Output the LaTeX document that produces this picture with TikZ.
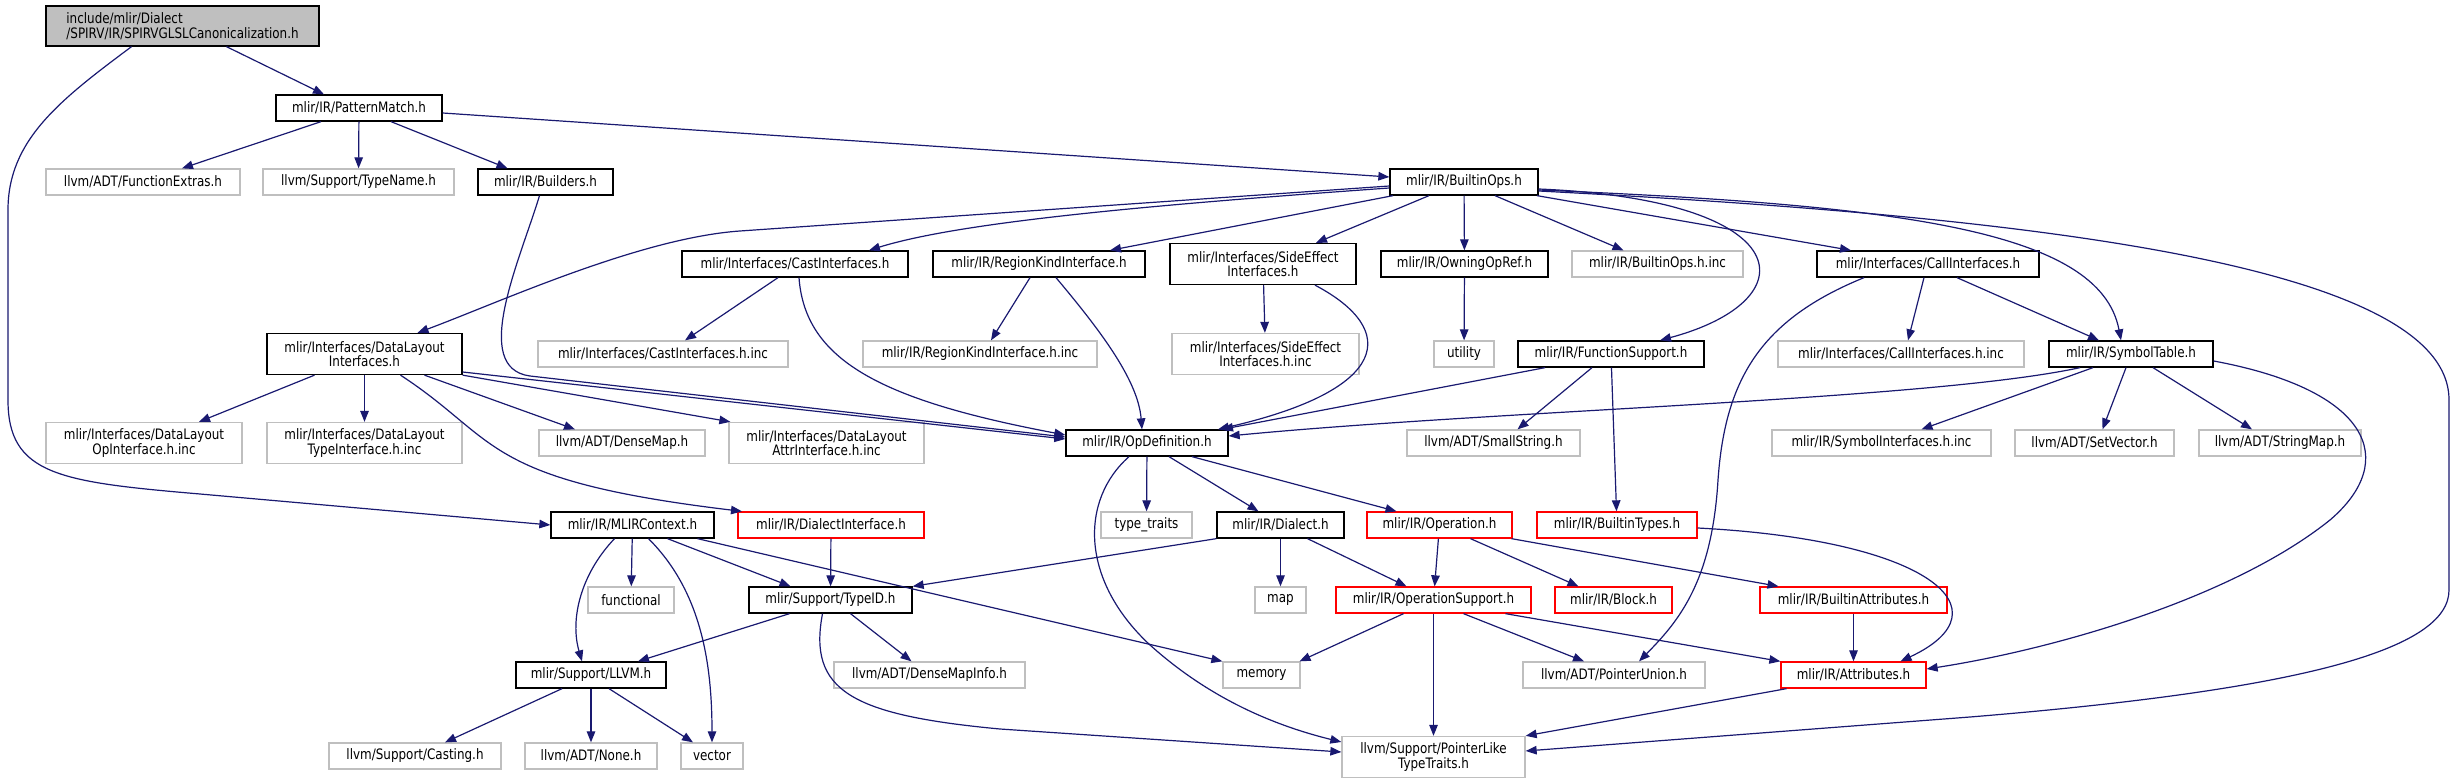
\documentclass[tikz,border=0pt]{standalone}
\usepackage{fontspec}
\setmainfont{DejaVu Sans}[FakeStretch=0.83]
\usepackage{xcolor}
\usepackage{tikz}
\usetikzlibrary{arrows.meta,calc}
\definecolor{edge}{HTML}{191970}
\definecolor{frame}{HTML}{BFBFBF}
\definecolor{trunc}{HTML}{FF0000}
\tikzset{
  box/.style={line width=1.3pt,fill=white,inner sep=0pt,minimum height=26,align=center,font=\fontsize{14.4}{14.5}\selectfont},
  inc/.style={box,draw=black},
  ext/.style={box,draw=frame},
  cut/.style={box,draw=trunc},
  root/.style={box,draw=black,fill=frame,align=left},
  dep/.style={draw=edge,line width=1.2pt,-{Triangle[length=11pt,width=8.5pt]}}
}

\begin{document}
\begin{tikzpicture}[x=1pt,y=-1pt]
  \useasboundingbox (0,0) rectangle (2455,783);
  \node[root,minimum width=273,minimum height=40] (top) at (182.5,26) {include/mlir/Dialect\\/SPIRV/IR/SPIRVGLSLCanonicalization.h};
  \node[inc,minimum width=166] (pmatch) at (359,108) {mlir/IR/PatternMatch.h};
  \node[ext,minimum width=194] (fextras) at (143,182) {llvm/ADT/FunctionExtras.h};
  \node[ext,minimum width=191] (tname) at (358.5,182) {llvm/Support/TypeName.h};
  \node[inc,minimum width=135] (builders) at (545.5,182) {mlir/IR/Builders.h};
  \node[inc,minimum width=148] (bops) at (1464,182) {mlir/IR/BuiltinOps.h};
  \node[inc,minimum width=226] (castif) at (795,264) {mlir/Interfaces/CastInterfaces.h};
  \node[inc,minimum width=212] (regkind) at (1039,264) {mlir/IR/RegionKindInterface.h};
  \node[inc,minimum width=186,minimum height=41] (sideeff) at (1263,264) {mlir/Interfaces/SideEffect\\Interfaces.h};
  \node[inc,minimum width=167] (owning) at (1464.5,264) {mlir/IR/OwningOpRef.h};
  \node[ext,minimum width=171] (bopsinc) at (1657.5,264) {mlir/IR/BuiltinOps.h.inc};
  \node[inc,minimum width=222] (callif) at (1928,264) {mlir/Interfaces/CallInterfaces.h};
  \node[inc,minimum width=195,minimum height=41] (dlayout) at (364.5,354) {mlir/Interfaces/DataLayout\\Interfaces.h};
  \node[ext,minimum width=250] (castinc) at (663,354) {mlir/Interfaces/CastInterfaces.h.inc};
  \node[ext,minimum width=234] (reginc) at (980,354) {mlir/IR/RegionKindInterface.h.inc};
  \node[ext,minimum width=187,minimum height=41] (sideinc) at (1265.5,354) {mlir/Interfaces/SideEffect\\Interfaces.h.inc};
  \node[ext,minimum width=60] (utility) at (1464,354) {utility};
  \node[inc,minimum width=186] (funcsup) at (1611,354) {mlir/IR/FunctionSupport.h};
  \node[ext,minimum width=246] (callinc) at (1901,354) {mlir/Interfaces/CallInterfaces.h.inc};
  \node[inc,minimum width=164] (symtab) at (2131,354) {mlir/IR/SymbolTable.h};
  \node[ext,minimum width=196,minimum height=41] (dlop) at (144,443) {mlir/Interfaces/DataLayout\\OpInterface.h.inc};
  \node[ext,minimum width=195,minimum height=41] (dltype) at (364.5,443) {mlir/Interfaces/DataLayout\\TypeInterface.h.inc};
  \node[ext,minimum width=166] (densemap) at (622,443) {llvm/ADT/DenseMap.h};
  \node[ext,minimum width=195,minimum height=41] (dlattr) at (826.5,443) {mlir/Interfaces/DataLayout\\AttrInterface.h.inc};
  \node[inc,minimum width=162] (opdef) at (1147,443) {mlir/IR/OpDefinition.h};
  \node[ext,minimum width=173] (smallstr) at (1493.5,443) {llvm/ADT/SmallString.h};
  \node[ext,minimum width=219] (symifinc) at (1881.5,443) {mlir/IR/SymbolInterfaces.h.inc};
  \node[ext,minimum width=159] (setvec) at (2094.5,443) {llvm/ADT/SetVector.h};
  \node[ext,minimum width=162] (strmap) at (2280,443) {llvm/ADT/StringMap.h};
  \node[inc,minimum width=163] (mlirctx) at (632.5,525) {mlir/IR/MLIRContext.h};
  \node[cut,minimum width=186] (dialif) at (831,525) {mlir/IR/DialectInterface.h};
  \node[ext,minimum width=91] (typetr) at (1146.5,525) {type\_traits};
  \node[inc,minimum width=127] (dialect) at (1280.5,525) {mlir/IR/Dialect.h};
  \node[cut,minimum width=145] (operation) at (1439.5,525) {mlir/IR/Operation.h};
  \node[cut,minimum width=160] (btypes) at (1617,525) {mlir/IR/BuiltinTypes.h};
  \node[ext,minimum width=86] (functional) at (631,600) {functional};
  \node[inc,minimum width=163] (typeid) at (830.5,600) {mlir/Support/TypeID.h};
  \node[ext,minimum width=51] (map) at (1280.5,600) {map};
  \node[cut,minimum width=195] (opsupp) at (1433.5,600) {mlir/IR/OperationSupport.h};
  \node[cut,minimum width=117] (block) at (1613.5,600) {mlir/IR/Block.h};
  \node[cut,minimum width=187] (battr) at (1853.5,600) {mlir/IR/BuiltinAttributes.h};
  \node[inc,minimum width=150] (llvmh) at (591,675) {mlir/Support/LLVM.h};
  \node[ext,minimum width=191] (dminfo) at (929.5,675) {llvm/ADT/DenseMapInfo.h};
  \node[ext,minimum width=77] (memory) at (1261.5,675) {memory};
  \node[ext,minimum width=182] (punion) at (1614,675) {llvm/ADT/PointerUnion.h};
  \node[cut,minimum width=145] (attrs) at (1853.5,675) {mlir/IR/Attributes.h};
  \node[ext,minimum width=172] (casting) at (415,756) {llvm/Support/Casting.h};
  \node[ext,minimum width=132] (none) at (591,756) {llvm/ADT/None.h};
  \node[ext,minimum width=62] (vector) at (712,756) {vector};
  \node[ext,minimum width=183,minimum height=41] (plike) at (1433.5,757) {llvm/Support/PointerLike\\TypeTraits.h};

  \foreach \a/\b in {pmatch/tname,bops/owning,owning/utility,sideeff/sideinc,dlayout/dltype,funcsup/btypes,opdef/typetr,mlirctx/functional,dialif/typeid,dialect/map,operation/opsupp,opsupp/plike,battr/attrs,llvmh/none}
    \draw[dep] (\a) -- (\b);

  \draw[dep] ([xshift=44]top.south) -- ([xshift=-35]pmatch.north);
  \draw[dep] ([xshift=-51]top.south) .. controls (60,100) and (8,140) .. (8,210) -- (8,400) .. controls (8,475) and (60,482) .. (200,494) -- (mlirctx.west);
  \draw[dep] ([xshift=-38]pmatch.south) -- ([xshift=39]fextras.north);
  \draw[dep] ([xshift=32]pmatch.south) -- ([xshift=-38]builders.north);
  \draw[dep] ([yshift=-5]pmatch.east) -- ([yshift=5]bops.west);
  \draw[dep] ([xshift=-6]builders.south) .. controls (520,260) and (470,368) .. (530,376) -- ([yshift=6]opdef.west);

  \draw[dep] ([yshift=-4]bops.west) -- (740,231) .. controls (640,238) and (500,302) .. ([xshift=53]dlayout.north);
  \draw[dep] ([yshift=-6]bops.west) .. controls (1150,205) and (960,222) .. ([xshift=74]castif.north);
  \draw[dep] ([xshift=-71]bops.south) -- ([xshift=71]regkind.north);
  \draw[dep] ([xshift=-35]bops.south) -- ([xshift=53]sideeff.north);
  \draw[dep] ([xshift=31]bops.south) -- ([xshift=-34]bopsinc.north);
  \draw[dep] ([xshift=73]bops.south) -- ([xshift=-77]callif.north);
  \draw[dep] ([yshift=-7]bops.east) .. controls (1800,200) and (1810,300) .. ([xshift=49]funcsup.north);
  \draw[dep] ([yshift=-8]bops.east) .. controls (1900,205) and (2100,230) .. ([xshift=-10]symtab.north);
  \draw[dep] ([yshift=-9]bops.east) .. controls (2000,215) and (2449,260) .. (2449,400) -- (2449,590) .. controls (2449,650) and (2300,690) .. (1970,717) -- ([yshift=6]plike.east);

  \draw[dep] ([xshift=-17]castif.south) -- ([xshift=22]castinc.north);
  \draw[dep] ([xshift=4]castif.south) .. controls (805,360) and (880,400) .. ([yshift=8]opdef.west);
  \draw[dep] ([xshift=-9]regkind.south) -- ([xshift=11]reginc.north);
  \draw[dep] ([xshift=17]regkind.south) .. controls (1100,330) and (1138,380) .. ([xshift=-5]opdef.north);
  \draw[dep] ([xshift=52]sideeff.south) .. controls (1400,330) and (1390,390) .. ([xshift=71]opdef.north);
  \draw[dep] ([xshift=-4]callif.south) -- ([xshift=7]callinc.north);
  \draw[dep] ([xshift=29]callif.south) -- ([xshift=-32]symtab.north);
  \draw[dep] ([xshift=-64]callif.south) .. controls (1760,320) and (1725,380) .. (1718,480) .. controls (1712,580) and (1680,620) .. ([xshift=25]punion.north);
  \draw[dep] ([xshift=-66]funcsup.south) -- ([xshift=75]opdef.north);
  \draw[dep] ([xshift=-19]funcsup.south) -- ([xshift=24]smallstr.north);

  \draw[dep] ([xshift=-51]symtab.south) .. controls (1930,400) and (1500,410) .. ([yshift=7]opdef.east);
  \draw[dep] ([xshift=-38]symtab.south) -- ([xshift=40]symifinc.north);
  \draw[dep] ([xshift=-5]symtab.south) -- ([xshift=8]setvec.north);
  \draw[dep] ([xshift=22]symtab.south) -- ([xshift=-28]strmap.north);
  \draw[dep] ([yshift=-7]symtab.east) .. controls (2370,390) and (2400,460) .. (2330,520) .. controls (2230,600) and (2050,650) .. ([yshift=6]attrs.east);

  \draw[dep] ([xshift=-50]dlayout.south) -- ([xshift=55]dlop.north);
  \draw[dep] ([xshift=60]dlayout.south) -- ([xshift=-47]densemap.north);
  \draw[dep] (dlayout.south east) -- ([xshift=2]dlattr.north west);
  \draw[dep] ([yshift=-18]dlayout.east) -- ([yshift=4]opdef.west);
  \draw[dep] ([xshift=36]dlayout.south) .. controls (500,440) and (480,480) .. ([xshift=-89]dialif.north);

  \draw[dep] ([xshift=22]opdef.south) -- ([xshift=-22]dialect.north);
  \draw[dep] ([xshift=45]opdef.south) -- ([xshift=-43]operation.north);
  \draw[dep] ([xshift=-18]opdef.south) .. controls (1080,500) and (1080,580) .. (1150,645) .. controls (1200,690) and (1260,722) .. ([yshift=15]plike.west);

  \draw[dep] ([xshift=35]mlirctx.south) -- ([xshift=-40]typeid.north);
  \draw[dep] ([xshift=-18]mlirctx.south) .. controls (580,575) and (570,620) .. ([xshift=-9]llvmh.north);
  \draw[dep] ([xshift=16]mlirctx.south) .. controls (700,590) and (712,660) .. (vector.north);
  \draw[dep] ([xshift=65]mlirctx.south) -- (memory.north west);
  \draw[dep] (dialect.south west) -- (typeid.north east);
  \draw[dep] ([xshift=27]dialect.south) -- ([xshift=-27]opsupp.north);
  \draw[dep] ([xshift=31]operation.south) -- ([xshift=-35]block.north);
  \draw[dep] ([xshift=72]operation.south) -- ([xshift=-75]battr.north);
  \draw[dep] ([yshift=-3]btypes.east) .. controls (1930,540) and (2010,610) .. ([xshift=47]attrs.north);

  \draw[dep] ([xshift=-41]typeid.south) -- ([xshift=47]llvmh.north);
  \draw[dep] ([xshift=20]typeid.south) -- ([xshift=-18]dminfo.north);
  \draw[dep] ([xshift=-8]typeid.south) .. controls (808,690) and (850,715) .. (1000,729) -- ([yshift=5]plike.west);
  \draw[dep] ([xshift=-30]opsupp.south) -- ([xshift=38]memory.north);
  \draw[dep] ([xshift=30]opsupp.south) -- ([xshift=-30]punion.north);
  \draw[dep] ([xshift=72]opsupp.south) -- (attrs.north west);
  \draw[dep] ([xshift=-67]attrs.south) -- (plike.north east);
  \draw[dep] ([xshift=-29]llvmh.south) -- ([xshift=30]casting.north);
  \draw[dep] ([xshift=18]llvmh.south) -- ([xshift=-19]vector.north);
\end{tikzpicture}
\end{document}
